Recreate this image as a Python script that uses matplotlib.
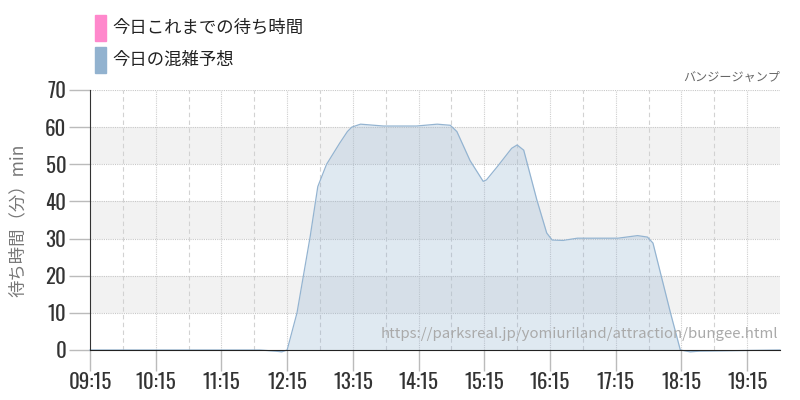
import matplotlib.pyplot as plt
import numpy as np

# 今日の混雑予想
times = ["09:15", "11:50", "12:04", "12:10", "12:15", "12:24", "12:36", "12:43",
         "12:51", "13:03", "13:10", "13:14", "13:22", "13:43", "14:13", "14:32",
         "14:44", "14:50", "15:02", "15:14", "15:17", "15:27", "15:40", "15:45",
         "15:51", "16:03", "16:12", "16:17", "16:27", "16:40", "17:17", "17:35",
         "17:44", "17:49", "18:05", "18:14", "18:23", "18:32", "19:45"]
wait = [0, 0, -0.3, -0.5, 0, 10, 30.5, 44,
        50, 55.7, 58.8, 60, 60.8, 60.3, 60.3, 60.8,
        60.5, 58.8, 51, 45.4, 45.8, 49.4, 54.3, 55.2,
        53.8, 40.4, 31.5, 29.6, 29.5, 30.1, 30.1, 30.8,
        30.4, 28.8, 10, 0, -0.5, -0.3, 0]

tick_labels = ["09:15", "10:15", "11:15", "12:15", "13:15", "14:15",
               "15:15", "16:15", "17:15", "18:15", "19:15"]
y_ticks = [0, 10, 20, 30, 40, 50, 60, 70]

legend_labels = ["今日これまでの待ち時間", "今日の混雑予想"]
legend_colors = ["#ff88cc", "#92b2cf"]

title = "バンジージャンプ"
ylabel = "待ち時間（分）min"
url = "https://parksreal.jp/yomiuriland/attraction/bungee.html"


def to_hours(t):
    h, m = t.split(":")
    return int(h) + int(m) / 60


x = np.array([to_hours(t) for t in times])
y = np.array(wait)
xt = [to_hours(t) for t in tick_labels]

jp = ["Noto Sans CJK JP", "DejaVu Sans"]
num_font = ["Oswald", "Roboto Condensed", "DejaVu Sans"]

fig = plt.figure(figsize=(8, 4), dpi=100)
ax = fig.add_axes([0.1125, 0.125, 0.8625, 0.65])

ax.set_xlim(9.25, 19.75)
ax.set_ylim(0, 70)

# alternating bands
for lo in (10, 30, 50):
    ax.axhspan(lo, lo + 10, color="#f2f2f2", zorder=0, lw=0)

# grid
for v in y_ticks[1:]:
    ax.axhline(v, color="#c8c8c8", lw=0.8, ls=(0, (1, 1)), zorder=1)
for h in xt[1:]:
    ax.axvline(h, color="#cfcfcf", lw=0.8, ls=(0, (1, 1)), zorder=1)
for h in xt:
    if h + 0.5 < 19.75:
        ax.axvline(h + 0.5, color="#d2d2d2", lw=0.8, ls=(0, (4, 3)), zorder=1)

ax.fill_between(x, y, 0, color="#8fb0cf", alpha=0.28, lw=0, zorder=2, clip_on=False)
ax.plot(x, y, color="#94b4d1", lw=0.9, zorder=3, clip_on=False)

ax.set_xticks(xt)
ax.set_xticklabels(tick_labels)
ax.set_yticks(y_ticks)
ax.tick_params(axis="both", colors="#bbbbbb", length=15, width=1,
               labelcolor="#333333", labelsize=15)
ax.tick_params(axis="x", pad=1)
ax.tick_params(axis="y", pad=2)
for lab in ax.get_xticklabels() + ax.get_yticklabels():
    lab.set_family(num_font)
    lab.set_weight(300)

for s in ("top", "right"):
    ax.spines[s].set_visible(False)
ax.spines["left"].set_color("#333333")
ax.spines["bottom"].set_color("#222222")
ax.spines["left"].set_zorder(4)
ax.spines["bottom"].set_zorder(4)

ax.set_ylabel(ylabel, family=jp, color="#777777", fontsize=12.5)
ax.yaxis.set_label_coords(-63 / 690, 0.5)

ax.text(1.0, 1.025, title, transform=ax.transAxes, ha="right", va="bottom",
        family=jp, color="#666666", fontsize=8.7)
ax.text(0.998, 0.035, url, transform=ax.transAxes, ha="right", va="bottom",
        family=jp, color="#aaaaaa", fontsize=10.8, zorder=5)

# legend boxes
for i, (lab, col) in enumerate(zip(legend_labels, legend_colors)):
    yc = 1 - (28 + 32 * i) / 400
    fig.patches.append(plt.Rectangle((95 / 800, yc - 13 / 400), 11 / 800, 26 / 400,
                                     transform=fig.transFigure, color=col))
    fig.text(112 / 800, yc, lab, family=jp, fontsize=12.5, color="#222222",
             va="center", ha="left")

fig.savefig("out.png", dpi=100)
